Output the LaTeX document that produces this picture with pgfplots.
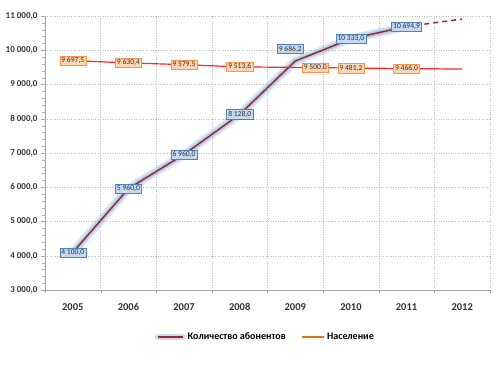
\documentclass[border=0pt]{standalone}
\usepackage{fontspec}
\setmainfont{Carlito}
\usepackage{pgfplots}
\pgfplotsset{compat=1.18}
\definecolor{subs}{HTML}{9B2B2B}
\definecolor{glow}{HTML}{8DB4E2}
\definecolor{popl}{HTML}{F52A2A}
\definecolor{popleg}{HTML}{E46C0A}
\definecolor{bluebox}{HTML}{C5D9F1}
\definecolor{blueedge}{HTML}{4F81BD}
\definecolor{orbox}{HTML}{FCD5B4}
\definecolor{oredge}{HTML}{F79646}
\pgfkeys{/pgf/number format/.cd, fixed, fixed zerofill, precision=1, use comma, 1000 sep={\ }, assume math mode=true}
\pgfplotsset{
  bluelbl/.style={draw=none, nodes near coords,
    every node near coord/.append style={anchor=center, font=\fontsize{7.6}{9}\selectfont, fill=bluebox, draw=blueedge, inner sep=1.6pt, text=black!80}},
  orlbl/.style={draw=none, nodes near coords,
    every node near coord/.append style={anchor=center, font=\fontsize{7.6}{9}\selectfont, fill=orbox, draw=oredge, inner sep=1.6pt, text=black!80}},
}
\begin{document}
\begin{tikzpicture}
\path[use as bounding box] (-45pt,-75pt) rectangle (455pt,290pt);
\begin{axis}[
  scale only axis, width=445pt, height=274pt,
  xmin=-0.5, xmax=7.5, ymin=3000, ymax=11000,
  scaled y ticks=false,
  axis x line*=bottom, axis y line*=left,
  axis line style={gray!70},
  xtick={0,1,2,3,4,5,6,7},
  xticklabels={2005,2006,2007,2008,2009,2010,2011,2012},
  major x tick style={draw=none},
  minor xtick={-0.5,0.5,1.5,2.5,3.5,4.5,5.5,6.5,7.5},
  minor x tick style={gray!70},
  xminorgrids=true, ymajorgrids=true,
  grid style={gray!50, dotted},
  minor grid style={gray!50, dotted},
  ytick={3000,4000,5000,6000,7000,8000,9000,10000,11000},
  minor y tick num=4,
  minor y tick style={gray!60},
  major y tick style={gray!70},
  tick align=outside,
  minor tick length=3pt, major tick length=4pt,
  yticklabel style={font=\bfseries\fontsize{9}{10}\selectfont, text=black!80},
  xticklabel style={font=\bfseries\fontsize{10.5}{12}\selectfont, text=black!80, yshift=-6pt},
  legend style={at={(0.495,-0.1715)}, anchor=center, draw=none, fill=none,
    legend columns=2, font=\bfseries\fontsize{10}{12}\selectfont,
    /tikz/every even column/.append style={column sep=14pt}},
]
\addlegendimage{legend image code/.code={
  \draw[glow, line width=6pt, opacity=0.45, line cap=round] (0pt,0pt) -- (25pt,0pt);
  \draw[subs, line width=1.5pt] (0pt,0pt) -- (25pt,0pt);}}
\addlegendentry{Количество абонентов}
\addlegendimage{legend image code/.code={
  \draw[popleg, line width=1.5pt] (0pt,0pt) -- (22pt,0pt);}}
\addlegendentry{Население}

\addplot[forget plot, glow, line width=9pt, opacity=0.3, line join=round, line cap=round] coordinates
  {(0,4100) (1,5960) (2,6960) (3,8128) (4,9686.2) (5,10333) (6,10694.9)};
\addplot[forget plot, glow, line width=5pt, opacity=0.5, line join=round, line cap=round] coordinates
  {(0,4100) (1,5960) (2,6960) (3,8128) (4,9686.2) (5,10333) (6,10694.9)};
\addplot[forget plot, subs, line width=1.5pt, line join=round] coordinates
  {(0,4100) (1,5960) (2,6960) (3,8128) (4,9686.2) (5,10333) (6,10694.9)};
\addplot[forget plot, subs, line width=1.5pt, dash pattern=on 5pt off 4pt] coordinates
  {(6,10694.9) (7,10910)};
\addplot[forget plot, popl, line width=1.2pt] coordinates
  {(0,9697.5) (1,9630.4) (2,9579.5) (3,9513.6) (4,9500.0) (5,9481.2) (6,9466.0) (7,9450)};

\addplot[forget plot, orlbl] coordinates
  {(0,9697.5) (1,9630.4) (2,9579.5) (3,9513.6) (5,9481.2) (6,9466.0)};
\addplot[forget plot, orlbl, every node near coord/.append style={xshift=20pt}] coordinates
  {(4,9500.0)};
\addplot[forget plot, bluelbl] coordinates
  {(0,4100) (1,5960) (2,6960) (3,8128) (5,10333) (6,10694.9)};
\addplot[forget plot, bluelbl, every node near coord/.append style={xshift=-5pt, yshift=12pt}] coordinates
  {(4,9686.2)};
\end{axis}
\end{tikzpicture}
\end{document}
